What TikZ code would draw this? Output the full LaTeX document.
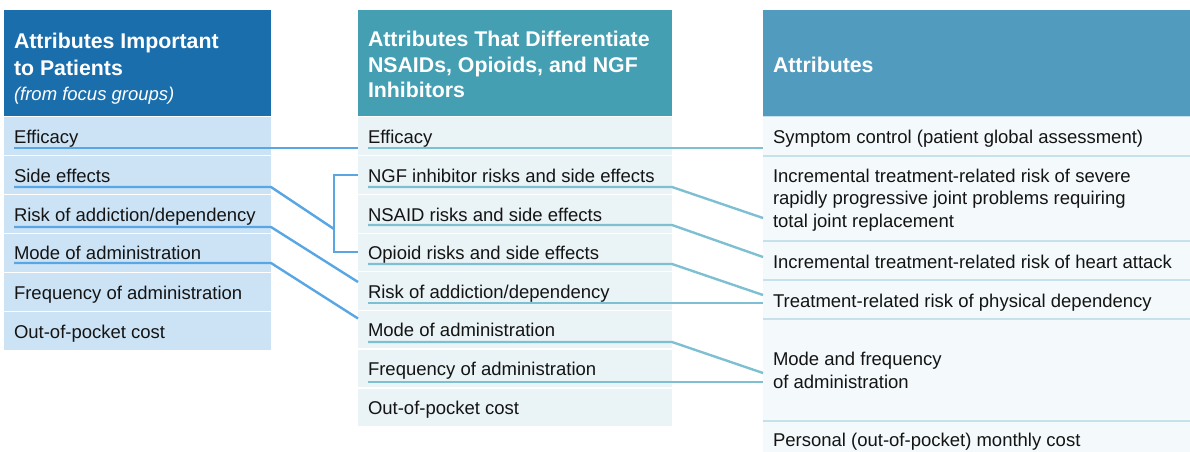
\documentclass[tikz,border=0pt]{standalone}
\usepackage{fontspec}
\setmainfont{Liberation Sans}
\usetikzlibrary{calc}
\definecolor{lheadc}{RGB}{27,110,172}
\definecolor{mheadc}{RGB}{69,159,178}
\definecolor{rheadc}{RGB}{81,155,190}
\definecolor{lrowc}{RGB}{204,227,245}
\definecolor{mrowc}{RGB}{234,243,246}
\definecolor{rrowc}{RGB}{244,249,251}
\definecolor{rsepc}{RGB}{198,224,236}
\definecolor{llinec}{RGB}{89,166,228}
\definecolor{mlinec}{RGB}{126,192,209}
\definecolor{txtc}{RGB}{20,20,20}
\begin{document}
\begin{tikzpicture}[x=1pt,y=-1pt,
  every node/.style={inner sep=0pt,outer sep=0pt},
  boxbase/.style={anchor=north west,draw=none},
  lhbox/.style={boxbase,fill=lheadc,minimum width=267pt,minimum height=106pt},
  mhbox/.style={boxbase,fill=mheadc,minimum width=314pt,minimum height=106pt},
  rhbox/.style={boxbase,fill=rheadc,minimum width=427pt,minimum height=106pt},
  lrow/.style={boxbase,fill=lrowc,minimum width=267pt,minimum height=37.5pt},
  mrow/.style={boxbase,fill=mrowc,minimum width=314pt,minimum height=37.5pt},
  rrow/.style={boxbase,fill=rrowc,minimum width=427pt},
  hdr/.style={anchor=west,align=left,text=white,font=\bfseries\fontsize{21.3}{25.5}\selectfont},
  btxt/.style={anchor=base west,text=txtc,font=\fontsize{18.5}{22.3}\selectfont},
  mtxt/.style={anchor=west,align=left,text=txtc,font=\fontsize{18.5}{22.3}\selectfont},
  lline/.style={draw=llinec,line width=2.4pt},
  mline/.style={draw=mlinec,line width=2.4pt}]
\useasboundingbox (0,0) rectangle (1190,451);

% headers
\node[lhbox] (LH) at (4,10) {};
\node[mhbox] (MH) at (358,10) {};
\node[rhbox] (RH) at (763,10) {};

% left rows
\node[lrow] (L1) at (4,117) {};
\node[lrow] (L2) at (4,156) {};
\node[lrow] (L3) at (4,195) {};
\node[lrow] (L4) at (4,234) {};
\node[lrow] (L5) at (4,273) {};
\node[lrow] (L6) at (4,312) {};

% middle rows
\node[mrow] (M1) at (358,117) {};
\node[mrow] (M2) at (358,156) {};
\node[mrow] (M3) at (358,195) {};
\node[mrow] (M4) at (358,233.5) {};
\node[mrow] (M5) at (358,272) {};
\node[mrow] (M6) at (358,310.5) {};
\node[mrow] (M7) at (358,349.5) {};
\node[mrow] (M8) at (358,388.5) {};

% right rows
\fill[rsepc] (763,116) rectangle (1190,451);
\node[rrow,minimum height=38pt] (R1) at (763,117) {};
\node[rrow,minimum height=83pt] (R2) at (763,157) {};
\node[rrow,minimum height=37pt] (R3) at (763,242) {};
\node[rrow,minimum height=37pt] (R4) at (763,281) {};
\node[rrow,minimum height=100pt] (R5) at (763,320) {};
\node[rrow,minimum height=40pt] (R6) at (763,422) {};

% header texts
\node[hdr] (LHt) at (14,68.5) {Attributes Important\\[1.5pt]to Patients\\{\mdseries\itshape\fontsize{18.5}{23}\selectfont (from focus groups)}};
\node[hdr] (MHt) at (368,64.5) {Attributes That Differentiate\\NSAIDs, Opioids, and NGF\\Inhibitors};
\node[hdr] (RHt) at (773,65) {Attributes};

% left texts
\node[btxt] (L1t) at ($(L1.north west)+(10,26)$) {Efficacy};
\node[btxt] (L2t) at ($(L2.north west)+(10,26)$) {Side effects};
\node[btxt] (L3t) at ($(L3.north west)+(10,26)$) {Risk of addiction/dependency};
\node[btxt] (L4t) at ($(L4.north west)+(10,25)$) {Mode of administration};
\node[btxt] (L5t) at ($(L5.north west)+(10,26)$) {Frequency of administration};
\node[btxt] (L6t) at ($(L6.north west)+(10,26)$) {Out-of-pocket cost};

% middle texts
\node[btxt] (M1t) at ($(M1.north west)+(10,26)$) {Efficacy};
\node[btxt] (M2t) at ($(M2.north west)+(10,26)$) {NGF inhibitor risks and side effects};
\node[btxt] (M3t) at ($(M3.north west)+(10,26)$) {NSAID risks and side effects};
\node[btxt] (M4t) at ($(M4.north west)+(10,26)$) {Opioid risks and side effects};
\node[btxt] (M5t) at ($(M5.north west)+(10,26)$) {Risk of addiction/dependency};
\node[btxt] (M6t) at ($(M6.north west)+(10,26)$) {Mode of administration};
\node[btxt] (M7t) at ($(M7.north west)+(10,26)$) {Frequency of administration};
\node[btxt] (M8t) at ($(M8.north west)+(10,26)$) {Out-of-pocket cost};

% right texts
\node[btxt] (R1t) at ($(R1.north west)+(10,26)$) {Symptom control (patient global assessment)};
\node[mtxt] (R2t) at ($(R2.west)+(10,1.5)$) {Incremental treatment-related risk of severe\\rapidly progressive joint problems requiring\\total joint replacement};
\node[btxt] (R3t) at ($(R3.north west)+(10,26)$) {Incremental treatment-related risk of heart attack};
\node[btxt] (R4t) at ($(R4.north west)+(10,26)$) {Treatment-related risk of physical dependency};
\node[mtxt] (R5t) at ($(R5.west)+(10,0.5)$) {Mode and frequency\\of administration};
\node[btxt] (R6t) at ($(R6.north west)+(10,24.5)$) {Personal (out-of-pocket) monthly cost};

% left connectors
\draw[lline] ($(L1.north west)+(10,31)$) -- ($(M1.north west)+(0,31)$);
\draw[lline] (M2.west) -- ++(-24,0) |- (M4.west);
\draw[lline] ($(L2.north west)+(10,31)$) -- ($(L2.north east)+(0,31)$) -- ($(M2.west)!0.7!(M4.west)+(-24,0)$);
\draw[lline] ($(L3.north west)+(10,32)$) -- ($(L3.north east)+(0,32)$) -- ($(M5.north west)+(0,10)$);
\draw[lline] ($(L4.north west)+(10,29)$) -- ($(L4.north east)+(0,29)$) -- ($(M6.north west)+(0,8)$);

% middle connectors
\draw[mline] ($(M1.north west)+(10,31)$) -- ($(R1.north west)+(0,31)$);
\draw[mline] ($(M2.north west)+(10,31)$) -- ($(M2.north east)+(0,31)$) -- ($(R2.north west)+(0,61)$);
\draw[mline] ($(M3.north west)+(10,30)$) -- ($(M3.north east)+(0,30)$) -- ($(R3.north west)+(0,15)$);
\draw[mline] ($(M4.north west)+(10,30.5)$) -- ($(M4.north east)+(0,30.5)$) -- ($(R4.north west)+(0,14)$);
\draw[mline] ($(M5.north west)+(10,31)$) -- ($(R4.north west)+(0,22)$);
\draw[mline] ($(M6.north west)+(10,31.5)$) -- ($(M6.north east)+(0,31.5)$) -- ($(R5.north west)+(0,53)$);
\draw[mline] ($(M7.north west)+(10,32.5)$) -- ($(R5.north west)+(0,62)$);
\end{tikzpicture}
\end{document}
